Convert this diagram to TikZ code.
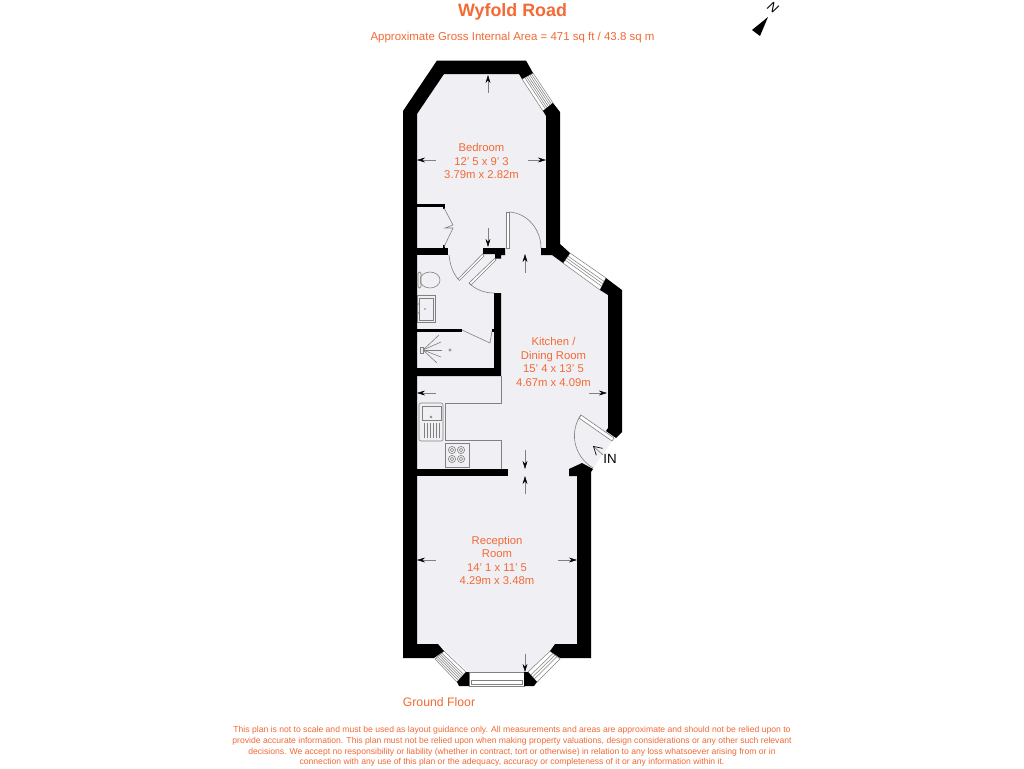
\documentclass[tikz,border=0pt]{standalone}
\usepackage{fontspec}
\setmainfont{Liberation Sans}
\usetikzlibrary{arrows.meta,calc}
\definecolor{floorc}{HTML}{F0EFF3}
\definecolor{labelc}{HTML}{F26A35}
\definecolor{linec}{HTML}{808080}
\newcommand{\winbox}[5]{%
  \draw[winline,fill=white] #1 -- #2 -- #3 -- #4 -- cycle;
  \foreach \t in {#5}{\draw[winline] ($#1!\t!#4$) -- ($#2!\t!#3$);}
}
\newcommand{\dimarrow}[2]{\draw[dimline] #1 -- #2;}
\tikzset{
  x=0.75pt,y=-0.75pt,
  wall/.style={fill=black,draw=none},
  thinline/.style={draw=linec,line width=0.45pt},
  winline/.style={draw=linec,line width=0.4pt},
  dimline/.style={draw=linec,line width=0.35pt,-{Stealth[length=6pt,width=3.6pt,black]}},
  roomlabel/.style={text=labelc,font=\fontsize{8.45pt}{10.15pt}\selectfont,align=center,inner sep=0pt},
}
\begin{document}
\begin{tikzpicture}
\useasboundingbox (0,0) rectangle (1024,768);
\fill[white] (0,0) rectangle (1024,768);
% floor
\fill[floorc] (444,74) -- (519,74) -- (546,116) -- (546,248) -- (552,255) -- (563,263) -- (600,290) -- (608,295) -- (608,428) -- (614,438) -- (593,468) -- (577,476) -- (577,644) -- (555,644) -- (528,672) -- (469,672) -- (438,644) -- (417,644) -- (417,114) -- cycle;
\fill[floorc] (581,415) .. controls (570,430) and (572,455) .. (593,468) -- (614,438) -- cycle;
% windows
\winbox{(522,79)}{(543,111)}{(553,103)}{(533,73)}{0.25,0.4,0.55,0.7,0.85}
\winbox{(563,263)}{(600,290)}{(606,278)}{(570,253)}{0.3,0.5,0.7}
\winbox{(444,651)}{(466,672)}{(457,682)}{(435,659)}{0.25,0.4,0.55,0.7,0.85}
\winbox{(528,672)}{(550,651)}{(560,659)}{(537,682)}{0.3,0.5,0.7}
\draw[winline,fill=white] (469,672) rectangle (524,686);
\draw[winline] (471,680) rectangle (522,684);
% walls
\fill[wall] (533,73) -- (526,60.5) -- (437,60.5) -- (403,111) -- (403,658) -- (434,658) -- (444,651) -- (438,644) -- (417,644) -- (417,114) -- (444,74) -- (519,74) -- (522,79) -- cycle;
\fill[wall] (553,103) -- (560,112) -- (560,244) -- (570,253) -- (563,263) -- (552,255) -- (541,255) -- (541,248) -- (546,248) -- (546,116) -- (543,111) -- cycle;
\fill[wall] (606,278) -- (622,290) -- (622,432) -- (616,438) -- (606,431) -- (608,428) -- (608,295) -- (600,290) -- cycle;
\fill[wall] (569,469) -- (582,463) -- (593,469) -- (591,472) -- (591,658) -- (560,658) -- (550,651) -- (555,644) -- (577,644) -- (577,476) -- (569,476) -- cycle;
\fill[wall] (457,682) -- (459,686) -- (469,686) -- (469,672) -- (466,672) -- cycle;
\fill[wall] (524,672) -- (524,686) -- (534,686) -- (537,682) -- (528,672) -- cycle;
% interior walls
\fill[wall] (417,248) rectangle (448,254.5);
\fill[wall] (417,204) rectangle (445,207);
\fill[wall] (442.5,204) rectangle (445,208.5);
\fill[wall] (442.5,245) rectangle (445,248);
\fill[wall] (483,248) -- (505,248) -- (505,255) -- (501,255) -- (501,258.5) -- (495,258.5) -- (495,254) -- (483,254) -- cycle;
\fill[wall] (494,293) -- (501,293) -- (501,376) -- (417,376) -- (417,368) -- (494,368) -- cycle;
\fill[wall] (417,329) rectangle (462,331.5);
\fill[wall] (491.5,328.5) rectangle (494,331.5);
\fill[wall] (417,469) rectangle (508,476);
% bedroom door
\draw[thinline,fill=white] (506,212) rectangle (509,248);
\draw[thinline] (509,212) .. controls (528,213) and (541,230) .. (541,248);
% closet doors
\draw[thinline] (444,208) -- (453,225) -- (445,228) -- (453,228) -- (444,247);
% bathroom doors
\draw[thinline,fill=white] (458,279) -- (482.5,254) -- (484,256) -- (459.5,280.5) -- cycle;
\draw[thinline] (449,255) .. controls (450,265) and (453,273) .. (458,279);
\draw[thinline,fill=white] (469,283) -- (494.5,258.5) -- (496,260) -- (471,285) -- cycle;
\draw[thinline] (469,283) .. controls (476,290) and (485,293) .. (494,293);
% toilet
\draw[thinline] (430,280) ellipse (10 and 8);
\draw[thinline,rounded corners=1pt] (418,272) rectangle (421,288);
% basin
\draw[thinline] (417,295) rectangle (435,322);
\draw[thinline] (419,298) rectangle (433,320);
\fill[linec] (425,309) circle (0.8);
\fill[linec] (419,304) circle (0.8);
\fill[linec] (419,313) circle (0.8);
% shower
\draw[thinline] (462,330) -- (490,343) -- (492,331);
\draw[thinline] (420,347) rectangle (423,353);
\foreach \ex/\ey in {439/335,441/342,442/350,441/357,437/363}{\draw[thinline] (423,350) -- (\ex,\ey);}
\draw[thinline] (450,350) circle (1.2);
% kitchen
\draw[thinline] (501,376) -- (501,403) -- (445,403) -- (445,440) -- (501,440) -- (501,469);
\draw[thinline,rounded corners=1.5pt] (419,403) rectangle (443,441);
\draw[thinline] (422,406) rectangle (441,420);
\draw[thinline] (431,417) circle (1);
\foreach \gx in {424,427,430,433,436,439}{\draw[thinline] (\gx,423) -- (\gx,438);}
\draw[thinline] (445,443) rectangle (469,467);
\foreach \hx/\hy in {452/450,461/450,452/459,461/459}{
  \draw[thinline] (\hx,\hy) circle (3.6);
  \draw[thinline] (\hx,\hy) circle (1.8);
}
% entrance door
\draw[thinline,fill=white] (581,415) -- (614,438) -- (612,441) -- (579,418) -- cycle;
\draw[thinline] (581,415) .. controls (570,430) and (572,455) .. (593,468);
\draw[draw=linec,line width=0.5pt,-{Straight Barb[length=6pt,width=7pt,black]}] (603,455) -- (593,446);
% dimension arrows
\dimarrow{(488,93)}{(488,75)}
\dimarrow{(436,160)}{(417,160)}
\dimarrow{(528,160)}{(546,160)}
\dimarrow{(488,228)}{(488,247)}
\dimarrow{(525,273)}{(525,254)}
\dimarrow{(436,393)}{(417,393)}
\dimarrow{(589,393)}{(607,393)}
\dimarrow{(525,450)}{(525,469)}
\dimarrow{(525,494)}{(525,476)}
\dimarrow{(436,560)}{(417,560)}
\dimarrow{(558,560)}{(577,560)}
\dimarrow{(525,654)}{(525,672)}
% north arrow
\fill[black] (768,17) -- (752,30) -- (760,36) -- cycle;
\node[rotate=-35,font=\itshape\fontsize{10pt}{10pt}\selectfont,inner sep=0pt] (northmark) at (773,8) {N};
% texts
\node[text=labelc,font=\bfseries\fontsize{13.4pt}{15pt}\selectfont,inner sep=0pt] (title) at (512.5,12) {Wyfold Road};
\node[text=labelc,font=\fontsize{8.6pt}{10pt}\selectfont,inner sep=0pt] (subtitle) at (512.5,38) {Approximate Gross Internal Area = 471 sq ft / 43.8 sq m};
\node[roomlabel] (bedroom) at (481.5,161) {Bedroom\\12' 5 x 9' 3\\3.79m x 2.82m};
\node[roomlabel] (kitchen) at (553.5,362) {Kitchen /\\Dining Room\\15' 4 x 13' 5\\4.67m x 4.09m};
\node[roomlabel] (reception) at (497,560.5) {Reception\\Room\\14' 1 x 11' 5\\4.29m x 3.48m};
\node[text=black,font=\fontsize{10pt}{10pt}\selectfont,inner sep=0pt] (inlabel) at (610,458.5) {IN};
\node[text=labelc,font=\fontsize{9.2pt}{10pt}\selectfont,inner sep=0pt] (ground) at (439,702) {Ground Floor};
\node[text=labelc,font=\fontsize{6.45pt}{7.95pt}\selectfont,align=center,inner sep=0pt] (disclaimer) at (512,746.5) {This plan is not to scale and must be used as layout guidance only. All measurements and areas are approximate and should not be relied upon to\\provide accurate information. This plan must not be relied upon when making property valuations, design considerations or any other such relevant\\decisions. We accept no responsibility or liability (whether in contract, tort or otherwise) in relation to any loss whatsoever arising from or in\\connection with any use of this plan or the adequacy, accuracy or completeness of it or any information within it.};
\end{tikzpicture}
\end{document}
